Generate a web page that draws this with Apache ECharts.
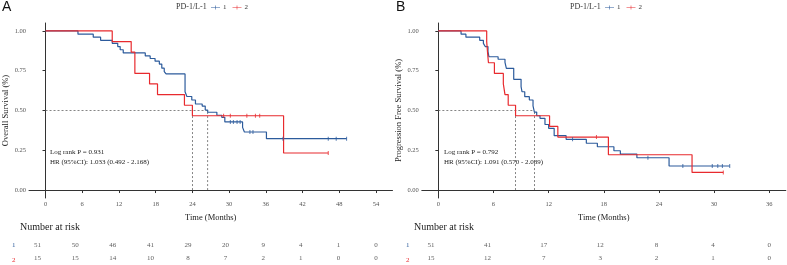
<!DOCTYPE html>
<html>
<head>
<meta charset="utf-8">
<script src="https://cdn.jsdelivr.net/npm/echarts@6/dist/echarts.min.js"></script>
<style>
  html, body { margin: 0; padding: 0; background: #fff; }
  #chart { width: 787px; height: 265px; }
</style>
</head>
<body>
<div id="chart"></div>
<script>
// panel A: overall survival
var aTime1 = [0, 5.3, 7.8, 9.0, 10.9, 11.8, 12.2, 12.7, 16.3, 17.1, 17.9, 18.6, 19.0, 19.4, 19.7, 22.8, 23.1, 23.9, 24.5, 25.6, 26.1, 26.5, 28.0, 28.8, 29.3, 32.2, 32.5, 36.1, 49.2];
var aSurv1 = [1, 0.980, 0.961, 0.941, 0.922, 0.902, 0.882, 0.862, 0.843, 0.827, 0.810, 0.792, 0.766, 0.745, 0.730, 0.618, 0.588, 0.566, 0.541, 0.528, 0.503, 0.489, 0.470, 0.457, 0.428, 0.394, 0.365, 0.323, 0.323];
var aCens1 = [[30.2, 0.428], [30.7, 0.428], [31.3, 0.428], [31.8, 0.428], [33.4, 0.365], [33.9, 0.365], [38.8, 0.323], [46.2, 0.323], [47.5, 0.323], [49.2, 0.323]];
var aTime2 = [0, 10.9, 14.0, 14.6, 17.0, 18.3, 22.7, 24.0, 38.9, 46.2];
var aSurv2 = [1, 0.933, 0.867, 0.733, 0.667, 0.600, 0.533, 0.467, 0.233, 0.233];
var aCens2 = [[29.1, 0.467], [30.2, 0.467], [32.9, 0.467], [34.3, 0.467], [35.0, 0.467], [46.2, 0.233]];
var aMedian = [24.0, 26.5];
var aTicks = [0, 6, 12, 18, 24, 30, 36, 42, 48, 54];
var aRisk1 = [51, 50, 46, 41, 29, 20, 9, 4, 1, 0];
var aRisk2 = [15, 15, 14, 10, 8, 7, 2, 1, 0, 0];

// panel B: progression free survival
var bTime1 = [0, 2.47, 3.0, 4.5, 4.9, 5.1, 5.4, 5.5, 6.5, 7.25, 7.4, 8.2, 9.0, 9.1, 9.4, 9.9, 10.3, 10.45, 10.7, 11.06, 11.6, 12.0, 12.6, 13.9, 16.1, 17.3, 19.1, 19.8, 21.6, 25.1, 31.7];
var bSurv1 = [1, 0.980, 0.961, 0.941, 0.922, 0.902, 0.870, 0.838, 0.822, 0.803, 0.765, 0.696, 0.650, 0.618, 0.587, 0.566, 0.529, 0.490, 0.467, 0.451, 0.412, 0.388, 0.342, 0.319, 0.294, 0.272, 0.247, 0.226, 0.203, 0.151, 0.151];
var bCens1 = [[14.6, 0.319], [22.8, 0.203], [26.6, 0.151], [29.8, 0.151], [30.4, 0.151], [30.9, 0.151], [31.7, 0.151]];
var bTime2 = [0, 5.26, 5.35, 5.45, 6.1, 7.07, 7.25, 7.6, 8.4, 12.1, 13.0, 18.5, 27.6, 31.0];
var bSurv2 = [1, 0.933, 0.867, 0.800, 0.733, 0.667, 0.600, 0.533, 0.467, 0.400, 0.333, 0.222, 0.111, 0.111];
var bCens2 = [[17.2, 0.333], [31.0, 0.111]];
var bMedian = [8.4, 10.45];
var bTicks = [0, 6, 12, 18, 24, 30, 36];
var bRisk1 = [51, 41, 17, 12, 8, 4, 0];
var bRisk2 = [15, 12, 7, 3, 2, 1, 0];

var yTicks = [0, 0.25, 0.5, 0.75, 1];

var BLUE = "#2c5b9c";
var RED = "#e82a2e";
var SERIF = "Liberation Serif";

var chart = echarts.init(document.getElementById("chart"));

function pairs(xs, ys) {
  return xs.map(function (x, i) { return [x, ys[i]]; });
}

function plotX(idx, maxT, ticks) {
  var pad = maxT * 0.05;
  return {
    gridIndex: idx, type: "value", min: -pad, max: maxT + pad,
    name: "Time (Months)", nameLocation: "middle", nameGap: 14,
    nameTextStyle: { fontFamily: SERIF, fontSize: 8.5, color: "#222" },
    axisLine: { lineStyle: { color: "#333", width: 1 } },
    axisTick: { customValues: ticks, length: 3, lineStyle: { color: "#333" } },
    axisLabel: { customValues: ticks, margin: 3, fontFamily: SERIF, fontSize: 6.5, color: "#555" },
    splitLine: { show: false }
  };
}

function plotY(idx, label) {
  return {
    gridIndex: idx, type: "value", min: -0.05, max: 1.05,
    name: label, nameLocation: "middle", nameGap: 19, nameRotate: 90,
    nameTextStyle: { fontFamily: SERIF, fontSize: 8.5, color: "#222" },
    axisLine: { show: true, lineStyle: { color: "#333", width: 1 } },
    axisTick: { show: true, customValues: yTicks, length: 3, lineStyle: { color: "#333" } },
    axisLabel: { customValues: yTicks, margin: 3, fontFamily: SERIF, fontSize: 6.5, color: "#555",
      formatter: function (v) { return v.toFixed(2); } },
    splitLine: { show: false }
  };
}

function hiddenAxis(idx, extra) {
  return Object.assign({
    gridIndex: idx, type: "value", show: false,
    axisLine: { show: false }, axisTick: { show: false }, axisLabel: { show: false }, splitLine: { show: false }
  }, extra);
}

function kmLine(name, xi, times, surv, color) {
  return {
    name: name, type: "line", step: "end", xAxisIndex: xi, yAxisIndex: xi,
    data: pairs(times, surv), showSymbol: false, silent: true,
    lineStyle: { color: color, width: 1.2 }, itemStyle: { color: color }, z: 3
  };
}

function censors(xi, pts, color) {
  return {
    type: "scatter", xAxisIndex: xi, yAxisIndex: xi, data: pts,
    symbol: "rect", symbolSize: [1, 4], itemStyle: { color: color }, silent: true, z: 4
  };
}

function medianLines(xi, meds) {
  var dash = { color: "#666", width: 0.8, type: [2, 2] };
  var out = [{
    type: "line", xAxisIndex: xi, yAxisIndex: xi, showSymbol: false, silent: true,
    data: [[0, 0.5], [Math.max.apply(null, meds), 0.5]], lineStyle: dash, z: 2
  }];
  meds.forEach(function (m) {
    out.push({
      type: "line", xAxisIndex: xi, yAxisIndex: xi, showSymbol: false, silent: true,
      data: [[m, 0], [m, 0.5]], lineStyle: dash, z: 2
    });
  });
  return out;
}

function riskRow(xi, ticks, counts, row) {
  return {
    type: "scatter", xAxisIndex: xi, yAxisIndex: xi, symbolSize: 0, silent: true,
    data: ticks.map(function (t, i) { return [t, row, counts[i]]; }),
    label: { show: true, position: "inside", fontFamily: SERIF, fontSize: 7, color: "#333",
      formatter: function (p) { return p.value[2]; } }
  };
}

var legendIcon = "path://M0,4.5H16V5.5H0Z M7.5,1.5H8.5V8.5H7.5Z";

function legendAt(left) {
  return {
    left: left, top: 4, padding: 0, data: ["1", "2"], icon: legendIcon,
    itemWidth: 9, itemHeight: 6, itemGap: 6, selectedMode: false,
    textStyle: { fontFamily: SERIF, fontSize: 7, color: "#333", padding: [0, 0, 0, -2] }
  };
}

function txt(x, y, s, size, color, family, align) {
  return {
    type: "text", left: x, top: y, silent: true,
    style: { text: s, fontSize: size, fontFamily: family || SERIF, fill: color || "#222", textAlign: align || "left" }
  };
}

var series = [];
series.push(kmLine("1", 0, aTime1, aSurv1, BLUE));
series.push(kmLine("2", 0, aTime2, aSurv2, RED));
series.push(censors(0, aCens1, BLUE));
series.push(censors(0, aCens2, RED));
series = series.concat(medianLines(0, aMedian));
series.push(kmLine("1", 1, bTime1, bSurv1, BLUE));
series.push(kmLine("2", 1, bTime2, bSurv2, RED));
series.push(censors(1, bCens1, BLUE));
series.push(censors(1, bCens2, RED));
series = series.concat(medianLines(1, bMedian));
series.push(riskRow(2, aTicks, aRisk1, 1));
series.push(riskRow(2, aTicks, aRisk2, 2));
series.push(riskRow(3, bTicks, bRisk1, 1));
series.push(riskRow(3, bTicks, bRisk2, 2));

var option = {
  animation: false,
  backgroundColor: "#fff",
  legend: [legendAt(211), legendAt(605)],
  grid: [
    { left: 28.5, width: 364, top: 23, height: 175 },
    { left: 421.8, width: 364, top: 23, height: 175 },
    { left: 37.6, width: 338.4, top: 238.65, height: 29.4 },
    { left: 431, width: 338.3, top: 238.65, height: 29.4 }
  ],
  xAxis: [
    plotX(0, 54, aTicks),
    plotX(1, 36, bTicks),
    hiddenAxis(2, { min: 0, max: 54 }),
    hiddenAxis(3, { min: 0, max: 36 })
  ],
  yAxis: [
    plotY(0, "Overall Survival (%)"),
    plotY(1, "Progression Free Survival (%)"),
    hiddenAxis(2, { min: 0.5, max: 2.5, inverse: true }),
    hiddenAxis(3, { min: 0.5, max: 2.5, inverse: true })
  ],
  graphic: [
    txt(2, 0, "A", 14, "#111", "Liberation Sans"),
    txt(396, 0, "B", 14, "#111", "Liberation Sans"),
    txt(176, 3, "PD-1/L-1", 8, "#333"),
    txt(570, 3, "PD-1/L-1", 8, "#333"),
    txt(50, 149, "Log rank P = 0.931", 7, "#222"),
    txt(50, 158.5, "HR (95%CI): 1.033 (0.492 - 2.168)", 7, "#222"),
    txt(444, 149, "Log rank P = 0.792", 7, "#222"),
    txt(444, 158.5, "HR (95%CI): 1.091 (0.570 - 2.089)", 7, "#222"),
    txt(20, 222, "Number at risk", 10, "#222"),
    txt(414, 222, "Number at risk", 10, "#222"),
    txt(12, 242, "1", 7, BLUE),
    txt(12, 256.5, "2", 7, RED),
    txt(406, 242, "1", 7, BLUE),
    txt(406, 256.5, "2", 7, RED)
  ],
  series: series
};

chart.setOption(option);
</script>
</body>
</html>
